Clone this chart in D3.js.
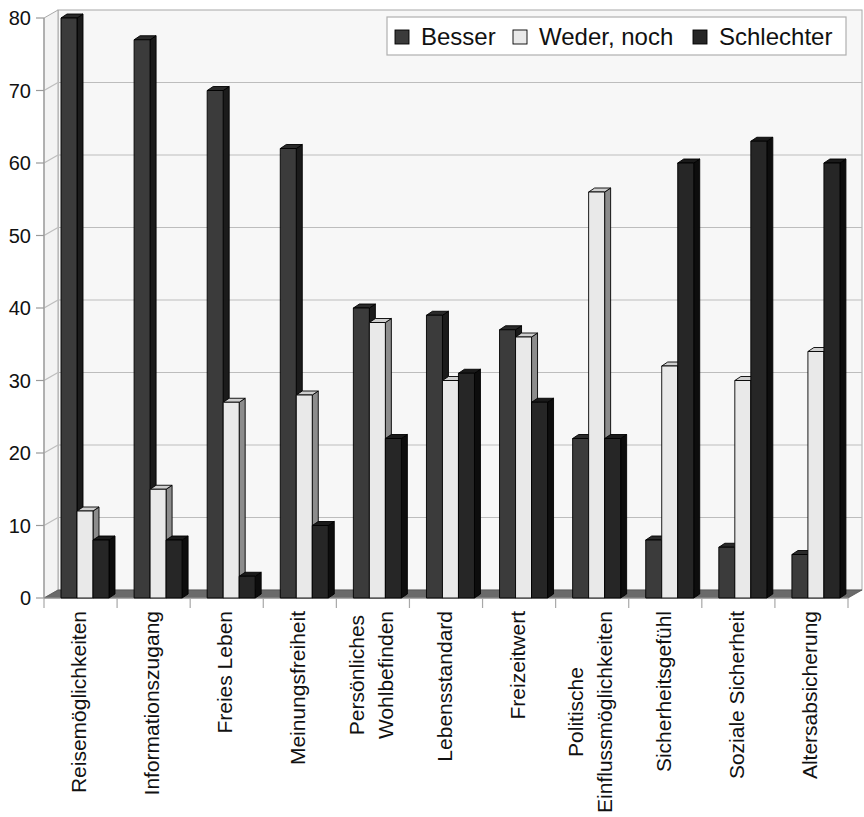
<!DOCTYPE html>
<html>
<head>
<meta charset="utf-8">
<script src="https://cdn.jsdelivr.net/npm/d3@7"></script>
<style>
  body { margin: 0; background: #fff; }
  text { font-family: "Liberation Sans", Arial, sans-serif; fill: #111; }
</style>
</head>
<body>
<svg id="chart" width="864" height="817"></svg>
<script>
// Survey answers per topic: better / neither / worse (percent)
const categories = [
  "Reisemöglichkeiten", "Informationszugang", "Freies Leben", "Meinungsfreiheit",
  "Persönliches\nWohlbefinden", "Lebensstandard", "Freizeitwert",
  "Politische\nEinflussmöglichkeiten", "Sicherheitsgefühl", "Soziale Sicherheit",
  "Altersabsicherung"
];
const series = ["Besser", "Weder, noch", "Schlechter"];
const besser     = [80, 77, 70, 62, 40, 39, 37, 22, 8, 7, 6];
const wederNoch  = [12, 15, 27, 28, 38, 30, 36, 56, 32, 30, 34];
const schlechter = [8, 8, 3, 10, 22, 31, 27, 22, 60, 63, 60];
const yTicks = [0, 10, 20, 30, 40, 50, 60, 70, 80];

const values = [besser, wederNoch, schlechter];
const faces = [
  { front: "#3b3b3b", top: "#2a2a2a", side: "#1b1b1b" },
  { front: "#e9e9e9", top: "#cfcfcf", side: "#8c8c8c" },
  { front: "#262626", top: "#1a1a1a", side: "#0d0d0d" }
];

const svg = d3.select("#chart");

// front plane scales, plus a fixed depth offset for the back wall
const x = d3.scaleBand().domain(categories).range([44, 848]);
const y = d3.scaleLinear().domain([0, 80]).range([598, 18]);
const DX = 14, DY = -8;
const inner = d3.scaleBand().domain(series).range([17, 65]);
const BDX = 6, BDY = -4;

const x0 = x.range()[0], x1 = x.range()[1];
const yTop = y(80), yBot = y(0);

// back wall
svg.append("rect")
  .attr("x", x0 + DX).attr("y", yTop + DY)
  .attr("width", x1 - x0).attr("height", yBot - yTop)
  .attr("fill", "#f7f7f7").attr("stroke", "#a8a8a8").attr("stroke-width", 1);

// left side wall
svg.append("polygon")
  .attr("points", [[x0, yTop], [x0 + DX, yTop + DY], [x0 + DX, yBot + DY], [x0, yBot]].join(" "))
  .attr("fill", "#f3f3f3").attr("stroke", "#a8a8a8").attr("stroke-width", 1);

// gridlines on back and side walls
const grid = svg.append("g").attr("stroke", "#bdbdbd").attr("stroke-width", 1.2);
yTicks.filter(t => t > 0 && t < 80).forEach(t => {
  grid.append("line")
    .attr("x1", x0 + DX).attr("x2", x1 + DX)
    .attr("y1", y(t) + DY).attr("y2", y(t) + DY);
  grid.append("line")
    .attr("x1", x0).attr("x2", x0 + DX)
    .attr("y1", y(t)).attr("y2", y(t) + DY);
});

// floor
svg.append("polygon")
  .attr("points", [[x0, yBot], [x1, yBot], [x1 + DX, yBot + DY], [x0 + DX, yBot + DY]].join(" "))
  .attr("fill", "#6a6a6a").attr("stroke", "#555").attr("stroke-width", 0.8);

// value axis
const yAxis = svg.append("g");
yAxis.append("line")
  .attr("x1", x0).attr("x2", x0).attr("y1", yTop).attr("y2", yBot)
  .attr("stroke", "#9a9a9a").attr("stroke-width", 1.2);
yTicks.forEach(t => {
  yAxis.append("line")
    .attr("x1", x0 - 8).attr("x2", x0).attr("y1", y(t)).attr("y2", y(t))
    .attr("stroke", "#9a9a9a").attr("stroke-width", 1.2);
  yAxis.append("text")
    .attr("x", 31).attr("y", y(t))
    .attr("text-anchor", "end").attr("dominant-baseline", "central")
    .attr("font-size", 20).text(t);
});

// category axis
const xAxis = svg.append("g");
xAxis.append("line")
  .attr("x1", x0).attr("x2", x1).attr("y1", yBot).attr("y2", yBot)
  .attr("stroke", "#9a9a9a").attr("stroke-width", 1.2);
const bounds = categories.map(c => x(c)).concat([x1]);
bounds.forEach(bx => {
  xAxis.append("line")
    .attr("x1", bx).attr("x2", bx).attr("y1", yBot).attr("y2", yBot + 10)
    .attr("stroke", "#a8a8a8").attr("stroke-width", 1.2);
});

// bars as boxes: front, top and side face
const bars = svg.append("g").attr("stroke", "#000").attr("stroke-width", 0.9).attr("stroke-linejoin", "round");
categories.forEach((c, i) => {
  series.forEach((s, k) => {
    const v = values[k][i];
    const bx = x(c) + inner(s);
    const w = inner.bandwidth();
    const top = y(v);
    const f = faces[k];
    const g = bars.append("g");
    g.append("polygon")
      .attr("points", [[bx + w, top], [bx + w + BDX, top + BDY], [bx + w + BDX, yBot + BDY], [bx + w, yBot]].join(" "))
      .attr("fill", f.side);
    g.append("polygon")
      .attr("points", [[bx, top], [bx + BDX, top + BDY], [bx + w + BDX, top + BDY], [bx + w, top]].join(" "))
      .attr("fill", f.top);
    g.append("rect")
      .attr("x", bx).attr("y", top).attr("width", w).attr("height", yBot - top)
      .attr("fill", f.front);
  });
});

// rotated category labels, hanging down from the axis
const labelTop = 611;
const lineGap = 28.5;
categories.forEach(c => {
  const lines = c.split("\n");
  const cx = x(c) + x.bandwidth() / 2 - 2;
  const g = svg.append("g");
  const texts = lines.map((ln, j) => g.append("text")
    .attr("font-size", 21)
    .attr("text-anchor", "middle")
    .attr("dominant-baseline", "central")
    .text(ln));
  const maxLen = d3.max(texts, t => t.node().getComputedTextLength());
  const cy = labelTop + maxLen / 2;
  texts.forEach((t, j) => {
    const lx = cx + (j - (lines.length - 1) / 2) * lineGap;
    t.attr("transform", `translate(${lx},${cy}) rotate(-90)`);
  });
});

// legend
const legend = svg.append("g");
legend.append("rect")
  .attr("x", 387).attr("y", 17).attr("width", 459).attr("height", 38)
  .attr("fill", "#fff").attr("stroke", "#b0b0b0").attr("stroke-width", 1.2);
const legendX = [395, 513, 693];
series.forEach((s, k) => {
  legend.append("rect")
    .attr("x", legendX[k]).attr("y", 30).attr("width", 14).attr("height", 14)
    .attr("fill", faces[k].front).attr("stroke", "#000").attr("stroke-width", 0.9);
  legend.append("text")
    .attr("x", legendX[k] + 26).attr("y", 45)
    .attr("font-size", 24).text(s);
});
</script>
</body>
</html>
